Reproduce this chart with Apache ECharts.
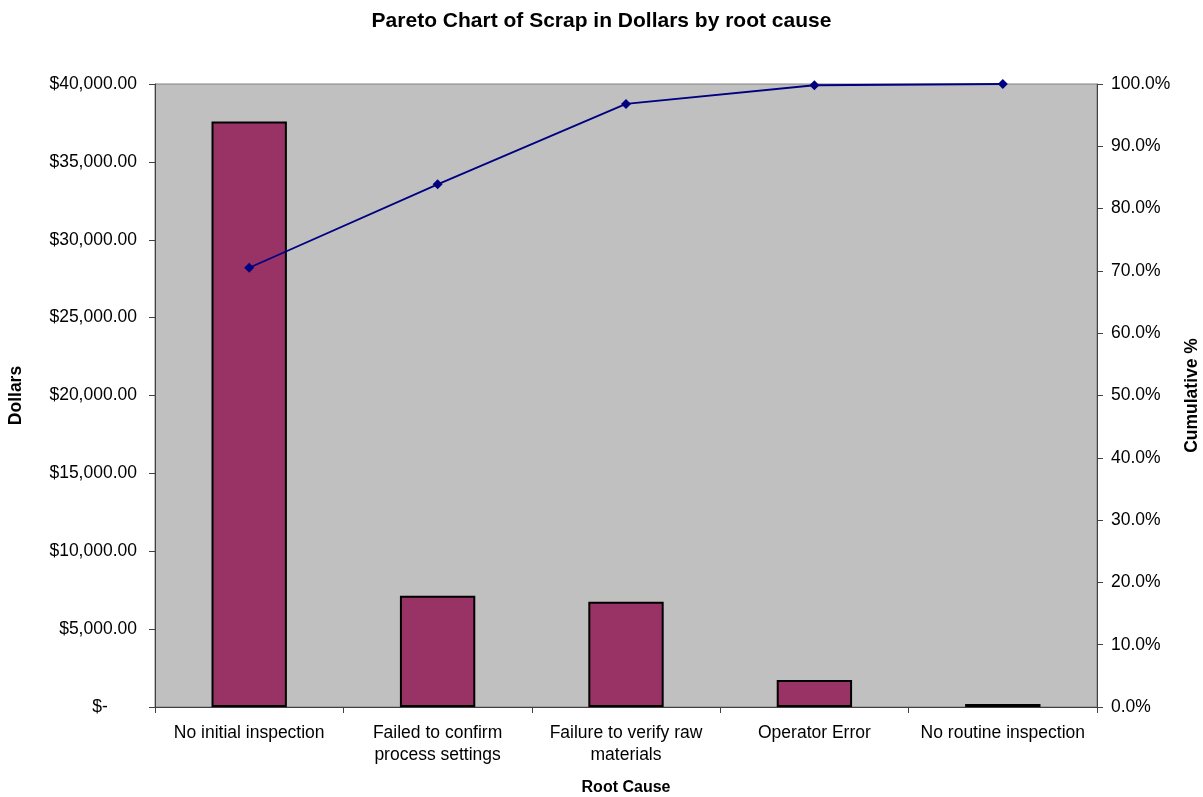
<!DOCTYPE html>
<html>
<head>
<meta charset="utf-8">
<script src="https://cdn.jsdelivr.net/npm/echarts@6/dist/echarts.min.js"></script>
<style>html,body{margin:0;padding:0;background:#fff}#c{width:1203px;height:797px}</style>
</head>
<body>
<div id="c"></div>
<script>
const categories = ["No initial inspection", "Failed to confirm\nprocess settings", "Failure to verify raw\nmaterials", "Operator Error", "No routine inspection"];
const dollars = [37600, 7150, 6760, 1730, 200];
const cumulative = [0.705, 0.839, 0.968, 0.998, 1.0];
const leftTicks = { min: 0, max: 40000, interval: 5000 };
const rightTicks = { min: 0, max: 1, interval: 0.1 };

const font = "'Liberation Sans', Arial, sans-serif";
function money(v) {
  if (v === 0) return '$-      ';
  return '$' + v.toLocaleString('en-US', { minimumFractionDigits: 2, maximumFractionDigits: 2 });
}
const chart = echarts.init(document.getElementById('c'), null, { renderer: 'canvas' });
chart.setOption({
  animation: false,
  backgroundColor: '#ffffff',
  title: {
    text: 'Pareto Chart of Scrap in Dollars by root cause',
    left: 'center', top: 6,
    textStyle: { fontFamily: font, fontSize: 21, fontWeight: 'bold', color: '#000' }
  },
  grid: {
    left: 155, right: 106, top: 84, bottom: 90,
    outerBoundsMode: 'none', containLabel: false,
    show: true, backgroundColor: '#c0c0c0', borderColor: '#808080', borderWidth: 1
  },
  xAxis: {
    type: 'category',
    data: categories,
    name: 'Root Cause',
    nameLocation: 'middle',
    nameGap: 73,
    nameTextStyle: { fontFamily: font, fontSize: 16, fontWeight: 'bold', color: '#000' },
    axisLine: { lineStyle: { color: '#404040', width: 1 } },
    axisTick: { show: true, length: 6, inside: false, lineStyle: { color: '#404040' } },
    axisLabel: { fontFamily: font, fontSize: 17.5, color: '#000', margin: 15, lineHeight: 22, interval: 0 },
    splitLine: { show: false }
  },
  yAxis: [
    {
      type: 'value', position: 'left',
      min: leftTicks.min, max: leftTicks.max, interval: leftTicks.interval,
      name: 'Dollars', nameLocation: 'middle', nameGap: 130, nameRotate: 90,
      nameTextStyle: { fontFamily: font, fontSize: 17.5, fontWeight: 'bold', color: '#000' },
      axisLine: { show: true, lineStyle: { color: '#404040', width: 1 } },
      axisTick: { show: true, length: 6, lineStyle: { color: '#404040' } },
      axisLabel: { fontFamily: font, fontSize: 17.5, color: '#000', margin: 18, formatter: money },
      splitLine: { show: false }
    },
    {
      type: 'value', position: 'right',
      min: rightTicks.min, max: rightTicks.max, interval: rightTicks.interval,
      name: 'Cumulative %', nameLocation: 'middle', nameGap: 86, nameRotate: 90,
      nameTextStyle: { fontFamily: font, fontSize: 17.5, fontWeight: 'bold', color: '#000' },
      axisLine: { show: true, lineStyle: { color: '#404040', width: 1 } },
      axisTick: { show: true, length: 6, lineStyle: { color: '#404040' } },
      axisLabel: { fontFamily: font, fontSize: 17.5, color: '#000', margin: 14,
        formatter: v => (v * 100).toFixed(1) + '%' },
      splitLine: { show: false }
    }
  ],
  series: [
    {
      type: 'bar', yAxisIndex: 0, data: dollars,
      barWidth: '40%',
      itemStyle: { color: '#993366', borderColor: '#000', borderWidth: 2 }
    },
    {
      type: 'line', yAxisIndex: 1, data: cumulative,
      symbol: 'diamond', symbolSize: 10,
      lineStyle: { color: '#000080', width: 1.8 },
      itemStyle: { color: '#000080' }
    }
  ]
});
</script>
</body>
</html>
